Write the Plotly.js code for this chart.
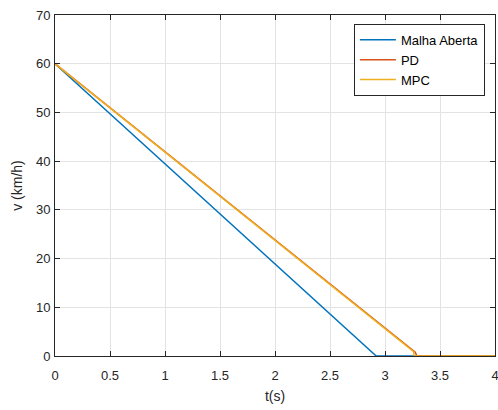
<!DOCTYPE html>
<html>
<head>
<meta charset="utf-8">
<script src="https://cdn.plot.ly/plotly-3.0.1.min.js"></script>
<style>html,body{margin:0;padding:0;background:#fff;}#chart{width:498px;height:410px;}</style>
</head>
<body>
<div id="chart"></div>
<script>
// Data
const seriesNames = ["Malha Aberta", "PD", "MPC"];
const tMalhaAberta = [0, 2.92, 4];
const vMalhaAberta = [60, 0, 0];
const tPD = [0, 3.275, 3.29, 4];
const vPD = [60, 0.8, 0, 0];
const tMPC = [0, 3.26, 3.265, 4];
const vMPC = [60, 0.9, 0, 0];
const xTicks = [0, 0.5, 1, 1.5, 2, 2.5, 3, 3.5, 4];
const xTickLabels = ["0", "0.5", "1", "1.5", "2", "2.5", "3", "3.5", "4"];
const yTicks = [0, 10, 20, 30, 40, 50, 60, 70];
const yTickLabels = ["0", "10", "20", "30", "40", "50", "60", "70"];

const colors = ["#0072BD", "#D95319", "#EDB120"];
const traces = [
  {x: tMalhaAberta, y: vMalhaAberta, name: seriesNames[0]},
  {x: tPD, y: vPD, name: seriesNames[1]},
  {x: tMPC, y: vMPC, name: seriesNames[2]}
].map((tr, i) => Object.assign(tr, {type: "scatter", mode: "lines", line: {color: colors[i], width: 1.5}}));

const axisCommon = {
  showline: true, linecolor: "#262626", linewidth: 1, mirror: "ticks",
  ticks: "inside", ticklen: 5, tickcolor: "#262626",
  showgrid: true, gridcolor: "#e3e3e3", gridwidth: 1,
  zeroline: false, ticklabeloverflow: "allow",
  tickfont: {family: "Liberation Sans, Arial, sans-serif", size: 13, color: "#262626"}
};

const layout = {
  width: 498, height: 410,
  margin: {l: 55, r: 3, t: 15, b: 54},
  paper_bgcolor: "#fff", plot_bgcolor: "#fff",
  font: {family: "Liberation Sans, Arial, sans-serif", size: 13, color: "#262626"},
  xaxis: Object.assign({}, axisCommon, {
    range: [0, 4], tickmode: "array", tickvals: xTicks, ticktext: xTickLabels,
    ticklabelstandoff: 7,
    title: {text: "t(s)", font: {size: 14, color: "#262626"}, standoff: 9}
  }),
  yaxis: Object.assign({}, axisCommon, {
    range: [0, 70], tickmode: "array", tickvals: yTicks, ticktext: yTickLabels,
    ticklabelstandoff: 1,
    title: {text: "v (km/h)", font: {size: 14, color: "#262626"}, standoff: 10}
  }),
  showlegend: true,
  legend: {
    x: 0.977, y: 0.974, xanchor: "right", yanchor: "top",
    bgcolor: "#fff", bordercolor: "#262626", borderwidth: 1,
    font: {size: 13, color: "#000"}, tracegroupgap: 0, itemwidth: 36
  }
};

Plotly.newPlot("chart", traces, layout, {displayModeBar: false, staticPlot: true});
</script>
</body>
</html>
